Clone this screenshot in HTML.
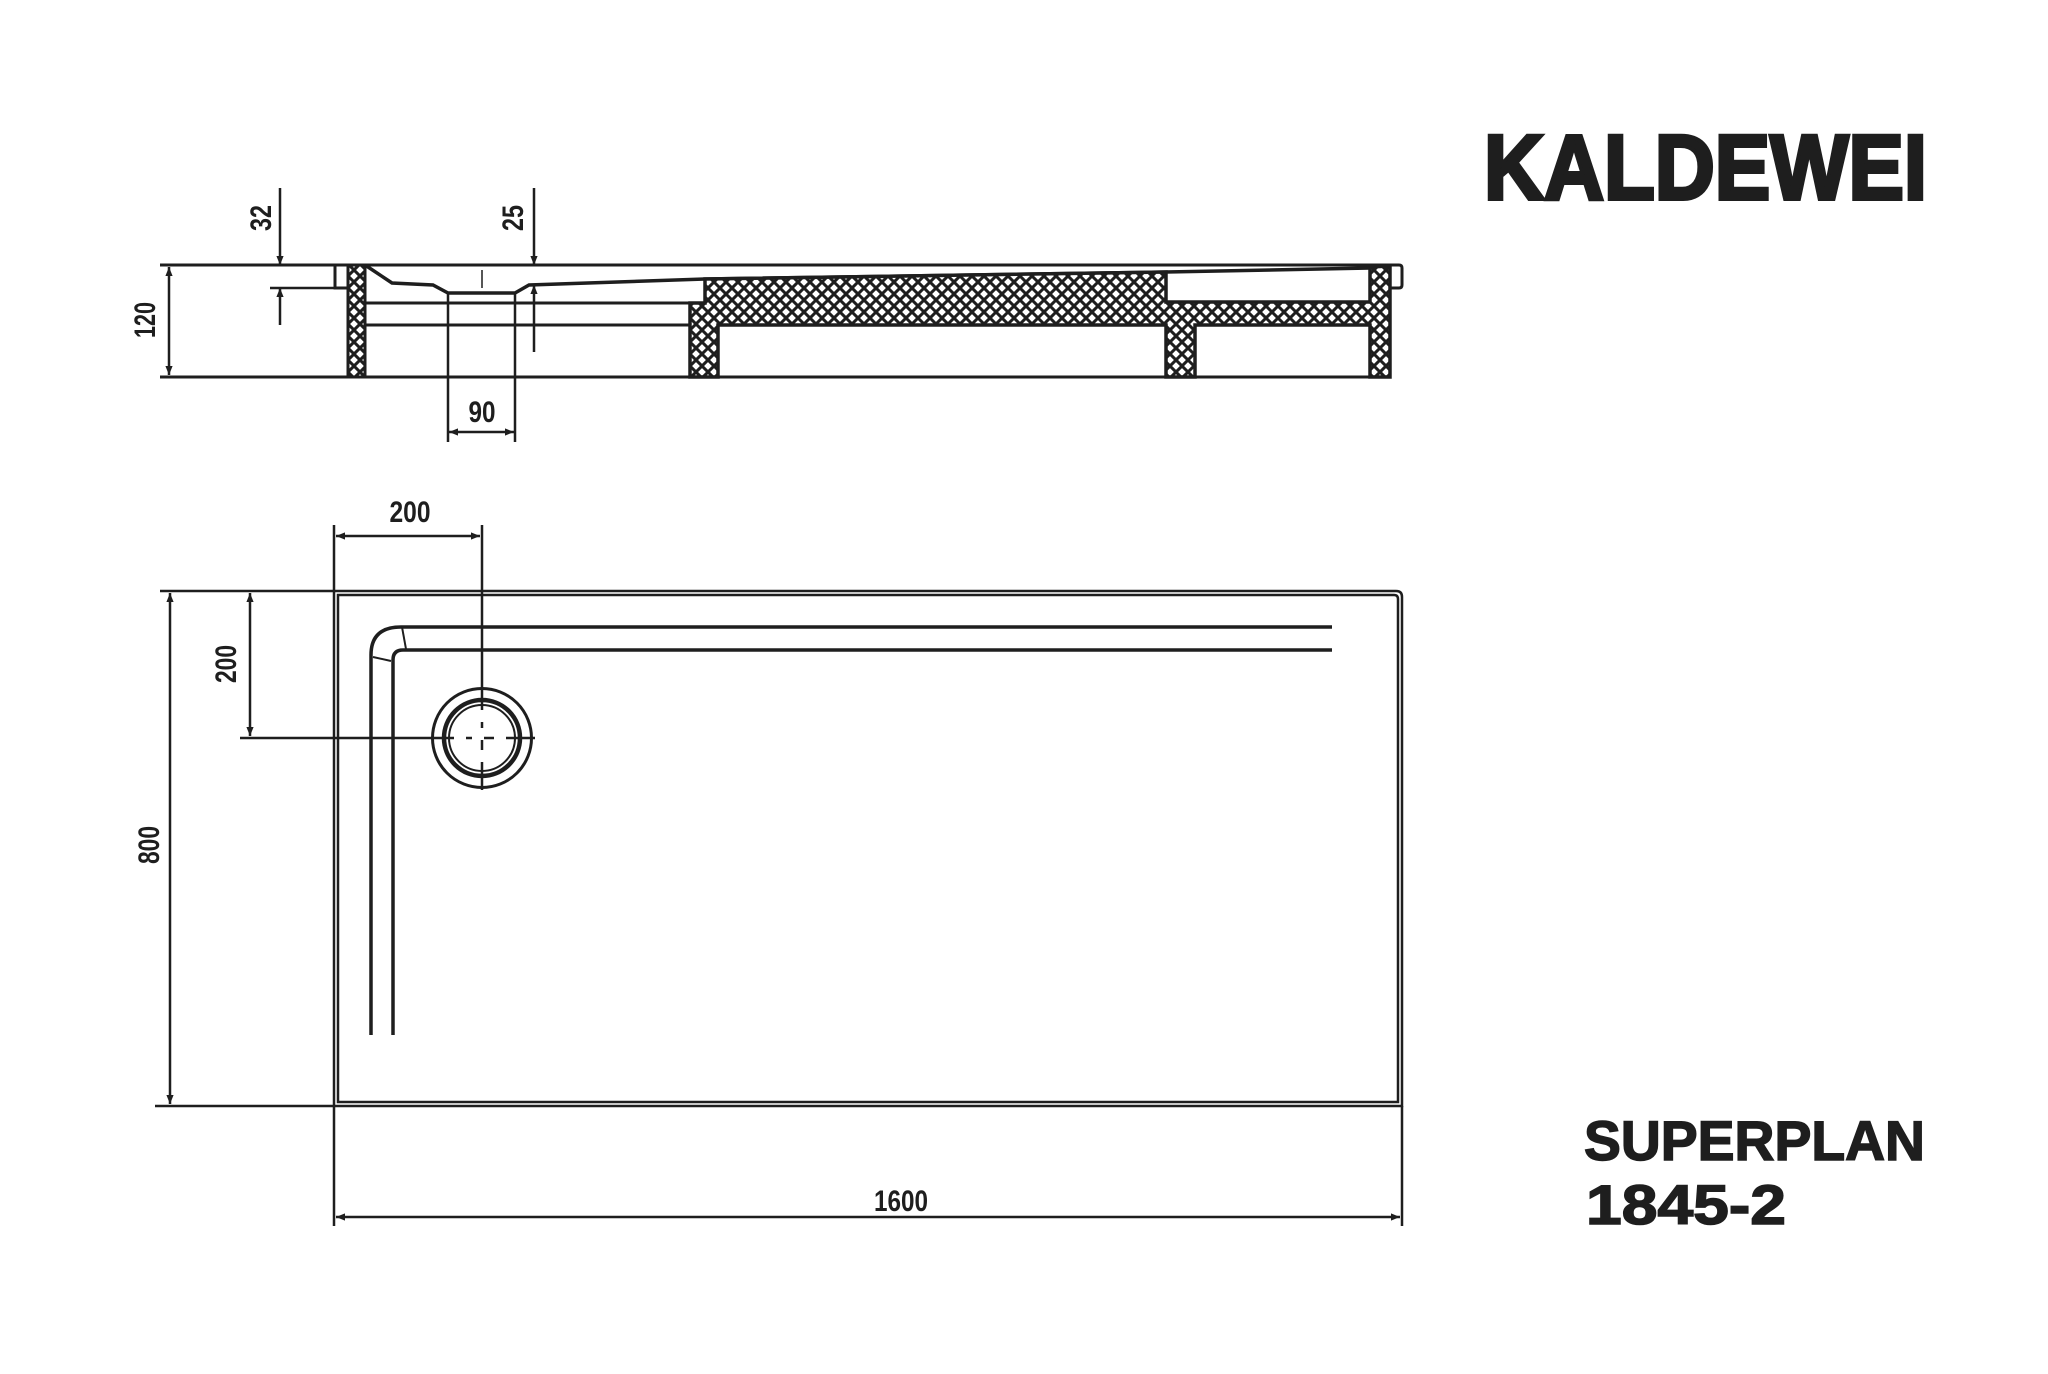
<!DOCTYPE html>
<html><head><meta charset="utf-8"><style>
html,body{margin:0;padding:0;background:#fff;}
svg{display:block;}
.d{font-family:"Liberation Sans",sans-serif;font-size:30px;font-weight:bold;fill:#1e1e1e;}
</style></head><body>
<svg width="2048" height="1374" viewBox="0 0 2048 1374" xmlns="http://www.w3.org/2000/svg">
<defs>
<pattern id="h" width="12" height="12" patternUnits="userSpaceOnUse">
<rect width="12" height="12" fill="#fff"/>
<path d="M-1,-1 L13,13 M-1,13 L13,-1 M-7,5 L5,-7 M7,19 L19,7 M-7,7 L5,19 M7,-7 L19,5" stroke="#1e1e1e" stroke-width="3"/>
</pattern>
<marker id="a" viewBox="0 0 10 10" refX="10" refY="5" markerWidth="20" markerHeight="9" markerUnits="userSpaceOnUse" orient="auto-start-reverse">
<path d="M0,1 L10,5 L0,9 Z" fill="#1e1e1e"/>
</marker>
</defs>
<g stroke="#1e1e1e" fill="none" stroke-width="2.5">

<!-- ===== SECTION VIEW ===== -->
<line x1="160" y1="265" x2="1396" y2="265" stroke-width="3"/>
<line x1="160" y1="377" x2="1390" y2="377" stroke-width="3"/>
<line x1="169" y1="267" x2="169" y2="375" marker-start="url(#a)" marker-end="url(#a)"/>
<!-- 32 -->
<line x1="280" y1="188" x2="280" y2="265" marker-end="url(#a)"/>
<line x1="280" y1="325" x2="280" y2="288" marker-end="url(#a)"/>
<line x1="270" y1="288" x2="335" y2="288"/>
<!-- 25 -->
<line x1="534" y1="188" x2="534" y2="265" marker-end="url(#a)"/>
<line x1="534" y1="352" x2="534" y2="285" marker-end="url(#a)"/>
<!-- lip left -->
<path d="M348,265 L335,265 L335,288 L348,288" stroke-width="3"/>
<!-- left wall -->
<rect x="348" y="265" width="17" height="112" fill="url(#h)" stroke-width="3"/>
<!-- drain profile -->
<path d="M365,265 L392,283 L433,285 L448,293 L515,293 L529,285 L705,279 L1166,272 L1370,268 L1388,266" stroke-width="3.5"/>
<line x1="482" y1="270" x2="482" y2="288" stroke-width="1.5"/>
<!-- 90 -->
<line x1="448" y1="293" x2="448" y2="442"/>
<line x1="515" y1="293" x2="515" y2="442"/>
<line x1="482" y1="432" x2="449" y2="432" marker-end="url(#a)"/>
<line x1="482" y1="432" x2="514" y2="432" marker-end="url(#a)"/>
<!-- inner lines -->
<line x1="365" y1="303" x2="690" y2="303" stroke-width="3"/>
<line x1="365" y1="325" x2="690" y2="325" stroke-width="3"/>
<!-- hatched body -->
<path d="M705,279 L1166,272 L1166,302 L1370,302 L1370,267 L1390,266 L1390,377 L1370,377 L1370,325 L1195,325 L1195,377 L1166,377 L1166,325 L718,325 L718,377 L690,377 L690,303 L705,303 Z" fill="url(#h)" stroke-width="3.5"/>
<!-- right lip -->
<path d="M1390,265 L1399,265 Q1402,265 1402,268 L1402,285 Q1402,288 1399,288 L1390,288" stroke-width="3"/>

<!-- ===== PLAN VIEW ===== -->
<path d="M334,591 L1396,591 Q1402,591 1402,597 L1402,1106 L334,1106 Z" stroke-width="2.5"/>
<path d="M338,595 L1394,595 Q1398,595 1398,599 L1398,1102 L338,1102 Z" stroke-width="2.5"/>
<!-- channels -->
<path d="M371,1035 L371,655 Q371,627 401,627 L1332,627" stroke-width="3.5"/>
<path d="M393,1035 L393,660 Q393,650 403,650 L1332,650" stroke-width="3.5"/>
<line x1="402" y1="627" x2="406" y2="649" stroke-width="2"/>
<line x1="373" y1="657" x2="391" y2="661" stroke-width="2"/>
<!-- drain -->
<circle cx="482" cy="738" r="49.5" stroke-width="3"/>
<circle cx="482" cy="738" r="38" stroke-width="4.5"/>
<circle cx="482" cy="738" r="33" stroke-width="2"/>
<line x1="482" y1="525" x2="482" y2="790" stroke-width="2.5"/>
<line x1="240" y1="738" x2="535" y2="738" stroke-width="2.5"/>
<line x1="482" y1="700" x2="482" y2="776" stroke="#fff" stroke-width="3.5" stroke-dasharray="0 10 12 6 12 10 12 6"/>
<line x1="444" y1="738" x2="520" y2="738" stroke="#fff" stroke-width="3.5" stroke-dasharray="0 10 12 6 12 10 12 6"/>
<!-- 200 horizontal -->
<line x1="334" y1="525" x2="334" y2="591"/>
<line x1="408" y1="536" x2="336" y2="536" marker-end="url(#a)"/>
<line x1="408" y1="536" x2="480" y2="536" marker-end="url(#a)"/>
<!-- 200 vertical -->
<line x1="250" y1="664" x2="250" y2="593" marker-end="url(#a)"/>
<line x1="250" y1="664" x2="250" y2="736" marker-end="url(#a)"/>
<!-- 800 -->
<line x1="160" y1="591" x2="334" y2="591"/>
<line x1="155" y1="1106" x2="334" y2="1106"/>
<line x1="170" y1="593" x2="170" y2="1104" marker-start="url(#a)" marker-end="url(#a)"/>
<!-- 1600 -->
<line x1="334" y1="1106" x2="334" y2="1226"/>
<line x1="1402" y1="1106" x2="1402" y2="1226"/>
<line x1="336" y1="1217" x2="1400" y2="1217" marker-start="url(#a)" marker-end="url(#a)"/>
</g>

<!-- dimension texts -->
<text class="d" transform="translate(155,320) rotate(-90)" text-anchor="middle" textLength="36" lengthAdjust="spacingAndGlyphs">120</text>
<text class="d" transform="translate(271,218) rotate(-90)" text-anchor="middle" textLength="26" lengthAdjust="spacingAndGlyphs">32</text>
<text class="d" transform="translate(523,218) rotate(-90)" text-anchor="middle" textLength="26" lengthAdjust="spacingAndGlyphs">25</text>
<text class="d" x="482" y="422" text-anchor="middle" textLength="27" lengthAdjust="spacingAndGlyphs">90</text>
<text class="d" x="410" y="522" text-anchor="middle" textLength="41" lengthAdjust="spacingAndGlyphs">200</text>
<text class="d" transform="translate(236,664) rotate(-90)" text-anchor="middle" textLength="38" lengthAdjust="spacingAndGlyphs">200</text>
<text class="d" transform="translate(159,845) rotate(-90)" text-anchor="middle" textLength="38" lengthAdjust="spacingAndGlyphs">800</text>
<text class="d" x="901" y="1211" text-anchor="middle" textLength="54" lengthAdjust="spacingAndGlyphs">1600</text>

<!-- titles -->
<text x="1484" y="199" font-family="Liberation Sans, sans-serif" font-weight="bold" font-size="92" fill="#1e1e1e" stroke="#1e1e1e" stroke-width="4" textLength="443" lengthAdjust="spacingAndGlyphs">KALDEWEI</text>
<text x="1584" y="1160" font-family="Liberation Sans, sans-serif" font-weight="bold" font-size="56" fill="#1e1e1e" stroke="#1e1e1e" stroke-width="1.5" textLength="341" lengthAdjust="spacingAndGlyphs">SUPERPLAN</text>
<text x="1586" y="1224" font-family="Liberation Sans, sans-serif" font-weight="bold" font-size="56" fill="#1e1e1e" stroke="#1e1e1e" stroke-width="1.5" textLength="200" lengthAdjust="spacingAndGlyphs">1845-2</text>
</svg>
</body></html>
